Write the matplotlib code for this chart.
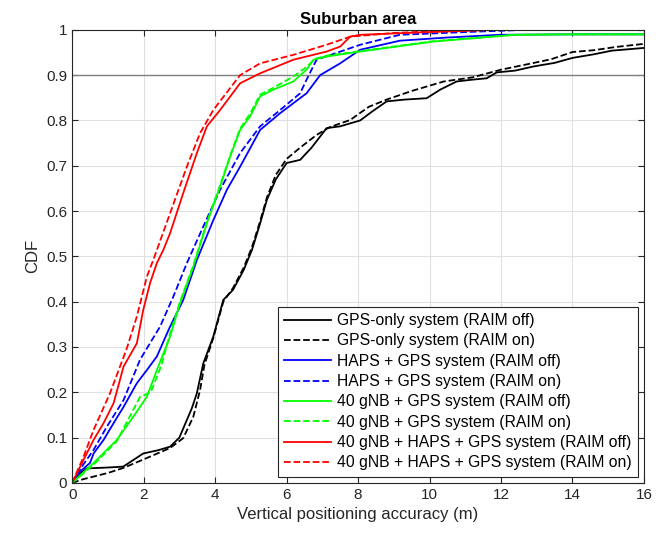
import matplotlib
matplotlib.use("Agg")
import matplotlib.pyplot as plt

plt.rcParams["font.family"] = ["Liberation Sans", "DejaVu Sans"]

# GPS-only
gps_off_x = [0, 0.2, 0.41, 1.0, 1.43, 1.99, 2.4, 2.74, 3.0, 3.21, 3.35, 3.49, 3.67, 3.95, 4.23, 4.5, 4.8, 5.03, 5.25, 5.45, 5.7, 6.0, 6.38, 6.7, 7.12, 7.5, 8.06, 8.4, 8.8, 9.3, 9.92, 10.3, 10.76, 11.2, 11.6, 11.88, 12.4, 12.9, 13.5, 14.0, 14.6, 15.1, 16.0]
gps_off_y = [0, 0.02, 0.032, 0.034, 0.036, 0.065, 0.072, 0.08, 0.1, 0.139, 0.165, 0.198, 0.264, 0.323, 0.404, 0.426, 0.47, 0.514, 0.57, 0.625, 0.67, 0.706, 0.713, 0.74, 0.783, 0.787, 0.80, 0.82, 0.842, 0.846, 0.849, 0.868, 0.886, 0.89, 0.893, 0.906, 0.91, 0.919, 0.927, 0.938, 0.946, 0.954, 0.96]
gps_on_x = [0, 0.3, 0.6, 1.0, 1.43, 2.09, 2.74, 3.11, 3.39, 3.58, 3.7, 3.95, 4.23, 4.5, 4.8, 5.03, 5.25, 5.45, 5.7, 6.0, 6.38, 6.84, 7.2, 7.78, 8.3, 8.8, 9.5, 10.4, 11.2, 12.0, 12.8, 13.4, 14.0, 14.6, 15.2, 16.0]
gps_on_y = [0, 0.008, 0.014, 0.022, 0.033, 0.055, 0.077, 0.099, 0.146, 0.205, 0.26, 0.32, 0.40, 0.43, 0.475, 0.52, 0.575, 0.63, 0.68, 0.715, 0.74, 0.768, 0.785, 0.801, 0.83, 0.846, 0.865, 0.886, 0.895, 0.912, 0.925, 0.935, 0.951, 0.955, 0.962, 0.969]

# HAPS + GPS
haps_off_x = [0, 0.22, 0.5, 0.6, 0.88, 1.16, 1.44, 1.81, 2.09, 2.37, 2.74, 3.11, 3.49, 3.95, 4.33, 4.7, 5.26, 5.82, 6.19, 6.56, 6.94, 7.5, 8.06, 9.17, 10.5, 11.97, 14.0, 16.0]
haps_off_y = [0, 0.025, 0.044, 0.065, 0.095, 0.132, 0.168, 0.22, 0.249, 0.279, 0.345, 0.404, 0.492, 0.58, 0.647, 0.698, 0.779, 0.816, 0.838, 0.86, 0.90, 0.926, 0.956, 0.976, 0.983, 0.989, 0.99, 0.99]
haps_on_x = [0, 0.22, 0.6, 0.97, 1.44, 1.9, 2.46, 2.83, 3.21, 3.67, 4.14, 4.7, 5.26, 5.82, 6.38, 6.56, 6.84, 8.06, 9.17, 11.0, 12.7, 14.0, 16.0]
haps_on_y = [0, 0.03, 0.073, 0.124, 0.183, 0.272, 0.345, 0.411, 0.485, 0.566, 0.647, 0.728, 0.787, 0.823, 0.86, 0.89, 0.934, 0.967, 0.989, 0.995, 1.0, 1.0, 1.0]

# 40 gNB + GPS
gnb_off_x = [0, 0.6, 1.25, 1.71, 2.09, 2.37, 2.74, 3.02, 3.39, 3.77, 4.14, 4.42, 4.7, 4.98, 5.26, 5.63, 6.19, 6.56, 6.75, 7.12, 8.06, 10.1, 12.4, 14.0, 16.0]
gnb_off_y = [0, 0.044, 0.095, 0.146, 0.19, 0.249, 0.323, 0.397, 0.477, 0.573, 0.654, 0.72, 0.779, 0.809, 0.853, 0.868, 0.886, 0.912, 0.934, 0.941, 0.952, 0.974, 0.989, 0.99, 0.99]
gnb_on_x = [0, 0.6, 1.25, 1.9, 2.2, 2.5, 2.74, 3.02, 3.39, 3.77, 4.14, 4.42, 4.7, 4.98, 5.26, 5.63, 6.19, 6.56, 6.8, 7.12, 8.06, 10.1, 12.4, 14.0, 16.0]
gnb_on_y = [0, 0.04, 0.092, 0.19, 0.2, 0.26, 0.33, 0.40, 0.48, 0.575, 0.657, 0.722, 0.782, 0.815, 0.857, 0.872, 0.897, 0.918, 0.936, 0.943, 0.953, 0.975, 0.989, 0.99, 0.99]

# 40 gNB + HAPS + GPS
all_off_x = [0, 0.32, 0.6, 0.88, 1.16, 1.44, 1.81, 1.99, 2.18, 2.37, 2.55, 2.74, 3.11, 3.49, 3.77, 4.14, 4.7, 5.26, 6.19, 7.12, 7.5, 7.78, 8.06, 10.0, 11.97, 16.0]
all_off_y = [0, 0.051, 0.095, 0.132, 0.176, 0.257, 0.308, 0.382, 0.441, 0.485, 0.514, 0.551, 0.64, 0.728, 0.787, 0.823, 0.882, 0.904, 0.934, 0.952, 0.963, 0.985, 0.989, 0.995, 1.0, 1.0]
all_on_x = [0, 0.32, 0.6, 1.06, 1.53, 1.81, 2.09, 2.27, 2.74, 3.21, 3.58, 3.95, 4.7, 5.26, 6.2, 7.12, 7.78, 9.0, 11.0, 16.0]
all_on_y = [0, 0.058, 0.117, 0.198, 0.297, 0.367, 0.455, 0.492, 0.595, 0.698, 0.772, 0.823, 0.90, 0.926, 0.945, 0.967, 0.985, 0.993, 1.0, 1.0]

fig = plt.figure(figsize=(6.68, 5.42), dpi=100)
ax = fig.add_axes([0.108, 0.109, 0.856, 0.836])

lw = 1.3
ax.plot(gps_off_x, gps_off_y, color="black", lw=lw, label="GPS-only system (RAIM off)")
ax.plot(gps_on_x, gps_on_y, color="black", lw=lw, ls="--", label="GPS-only system (RAIM on)")
ax.plot(haps_off_x, haps_off_y, color="#0000ff", lw=lw, label="HAPS + GPS system (RAIM off)")
ax.plot(haps_on_x, haps_on_y, color="#0000ff", lw=lw, ls="--", label="HAPS + GPS system (RAIM on)")
ax.plot(gnb_off_x, gnb_off_y, color="#00ff00", lw=lw, label="40 gNB + GPS system (RAIM off)")
ax.plot(gnb_on_x, gnb_on_y, color="#00ff00", lw=lw, ls="--", label="40 gNB + GPS system (RAIM on)")
ax.plot(all_off_x, all_off_y, color="#ff0000", lw=lw, label="40 gNB + HAPS + GPS system (RAIM off)")
ax.plot(all_on_x, all_on_y, color="#ff0000", lw=lw, ls="--", label="40 gNB + HAPS + GPS system (RAIM on)")

ax.axhline(0.9, color="#808080", lw=1.0, zorder=1)

ax.set_xlim(0, 16)
ax.set_ylim(0, 1)
ax.set_xticks(range(0, 17, 2))
ax.set_yticks([i / 10 for i in range(11)])
ax.set_yticklabels(["0", "0.1", "0.2", "0.3", "0.4", "0.5", "0.6", "0.7", "0.8", "0.9", "1"])
ax.tick_params(direction="in", labelsize=11, length=4, top=True, right=True, colors="#262626")
ax.grid(True, color="#e0e0e0", lw=0.8)
ax.set_axisbelow(True)
for s in ax.spines.values():
    s.set_color("#262626")
    s.set_linewidth(0.8)

ax.set_title("Suburban area", fontsize=12, fontweight="bold", pad=4)
ax.set_xlabel("Vertical positioning accuracy (m)", fontsize=12, color="#262626")
ax.set_ylabel("CDF", fontsize=12, color="#262626")

leg = ax.legend(loc="lower right", fontsize=11.3, fancybox=False, framealpha=1,
                edgecolor="#262626", borderaxespad=0.4, handlelength=3.0,
                labelspacing=0.34, borderpad=0.4, handletextpad=0.35)
leg.get_frame().set_linewidth(0.8)

fig.savefig("out.png", dpi=100)
